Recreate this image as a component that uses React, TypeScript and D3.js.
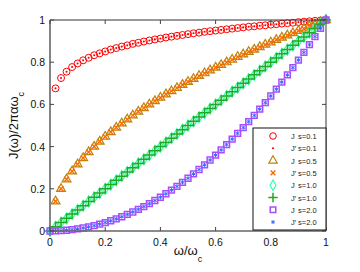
import { useEffect, useRef } from 'react'
import * as d3 from 'd3'

// omega / omega_c sample positions
const xs = [
  0.02, 0.04, 0.06, 0.08, 0.1, 0.12, 0.14, 0.16, 0.18, 0.2,
  0.22, 0.24, 0.26, 0.28, 0.3, 0.32, 0.34, 0.36, 0.38, 0.4,
  0.42, 0.44, 0.46, 0.48, 0.5, 0.52, 0.54, 0.56, 0.58, 0.6,
  0.62, 0.64, 0.66, 0.68, 0.7, 0.72, 0.74, 0.76, 0.78, 0.8,
  0.82, 0.84, 0.86, 0.88, 0.9, 0.92, 0.94, 0.96, 0.98, 1.0,
]
const xsWithZero = [0, ...xs]

const s01 = [
  0.676, 0.725, 0.755, 0.777, 0.794, 0.809, 0.821, 0.833, 0.842, 0.851,
  0.86, 0.867, 0.874, 0.88, 0.887, 0.892, 0.898, 0.903, 0.908, 0.912,
  0.917, 0.921, 0.925, 0.929, 0.933, 0.937, 0.94, 0.944, 0.947, 0.95,
  0.953, 0.956, 0.959, 0.962, 0.965, 0.968, 0.97, 0.973, 0.975, 0.978,
  0.98, 0.983, 0.985, 0.987, 0.99, 0.992, 0.994, 0.996, 0.998, 1.0,
]
const s05 = [
  0.141, 0.2, 0.245, 0.283, 0.316, 0.346, 0.374, 0.4, 0.424, 0.447,
  0.469, 0.49, 0.51, 0.529, 0.548, 0.566, 0.583, 0.6, 0.616, 0.632,
  0.648, 0.663, 0.678, 0.693, 0.707, 0.721, 0.735, 0.748, 0.762, 0.775,
  0.787, 0.8, 0.812, 0.825, 0.837, 0.849, 0.86, 0.872, 0.883, 0.894,
  0.906, 0.917, 0.927, 0.938, 0.949, 0.959, 0.97, 0.98, 0.99, 1.0,
]
const s10 = [
  0, 0.02, 0.04, 0.06, 0.08, 0.1, 0.12, 0.14, 0.16, 0.18, 0.2,
  0.22, 0.24, 0.26, 0.28, 0.3, 0.32, 0.34, 0.36, 0.38, 0.4,
  0.42, 0.44, 0.46, 0.48, 0.5, 0.52, 0.54, 0.56, 0.58, 0.6,
  0.62, 0.64, 0.66, 0.68, 0.7, 0.72, 0.74, 0.76, 0.78, 0.8,
  0.82, 0.84, 0.86, 0.88, 0.9, 0.92, 0.94, 0.96, 0.98, 1.0,
]
const s20 = [
  0, 0.0004, 0.0016, 0.0036, 0.0064, 0.01, 0.0144, 0.0196, 0.0256, 0.0324, 0.04,
  0.0484, 0.0576, 0.0676, 0.0784, 0.09, 0.1024, 0.1156, 0.1296, 0.1444, 0.16,
  0.1764, 0.1936, 0.2116, 0.2304, 0.25, 0.2704, 0.2916, 0.3136, 0.3364, 0.36,
  0.3844, 0.4096, 0.4356, 0.4624, 0.49, 0.5184, 0.5476, 0.5776, 0.6084, 0.64,
  0.6724, 0.7056, 0.7396, 0.7744, 0.81, 0.8464, 0.8836, 0.9216, 0.9604, 1.0,
]

const ticks = [0, 0.2, 0.4, 0.6, 0.8, 1]
const tickLabels = ['0', '0.2', '0.4', '0.6', '0.8', '1']

interface MarkerStyle {
  symbol: d3.SymbolType
  size: number
  stroke: string
  fill: string
  width: number
}

interface Series {
  name: string
  s: string
  x: number[]
  y: number[]
  marker: MarkerStyle
}

const series: Series[] = [
  { name: 'J', s: 's=0.1', x: xs, y: s01, marker: { symbol: d3.symbolCircle, size: 38, stroke: '#ff0000', fill: 'none', width: 1 } },
  { name: 'J\u2032', s: 's=0.1', x: xs, y: s01, marker: { symbol: d3.symbolCircle, size: 3.5, stroke: 'none', fill: '#ff0000', width: 0 } },
  { name: 'J', s: 's=0.5', x: xs, y: s05, marker: { symbol: d3.symbolTriangle, size: 34, stroke: '#b8860b', fill: 'none', width: 1.2 } },
  { name: 'J\u2032', s: 's=0.5', x: xs, y: s05, marker: { symbol: d3.symbolX, size: 18, stroke: '#ff6a00', fill: 'none', width: 1.4 } },
  { name: 'J', s: 's=1.0', x: xsWithZero, y: s10, marker: { symbol: d3.symbolDiamond, size: 34, stroke: '#33ffaa', fill: 'none', width: 1.2 } },
  { name: 'J\u2032', s: 's=1.0', x: xsWithZero, y: s10, marker: { symbol: d3.symbolPlus, size: 34, stroke: '#22a822', fill: 'none', width: 1.5 } },
  { name: 'J', s: 's=2.0', x: xsWithZero, y: s20, marker: { symbol: d3.symbolSquare, size: 34, stroke: '#a64dff', fill: 'none', width: 1.5 } },
  { name: 'J\u2032', s: 's=2.0', x: xsWithZero, y: s20, marker: { symbol: d3.symbolAsterisk, size: 12, stroke: '#3366ff', fill: 'none', width: 1 } },
]

export default function App() {
  const svgRef = useRef<SVGSVGElement>(null)
  const width = 360
  const height = 272

  useEffect(() => {
    if (!svgRef.current) return
    const svg = d3.select(svgRef.current)
    svg.selectAll('*').remove()

    const margin = { top: 20, right: 34, bottom: 41, left: 50 }
    const innerW = width - margin.left - margin.right
    const innerH = height - margin.top - margin.bottom

    const x = d3.scaleLinear().domain([0, 1]).range([0, innerW])
    const y = d3.scaleLinear().domain([0, 1]).range([innerH, 0])

    const g = svg.append('g').attr('transform', `translate(${margin.left},${margin.top})`)
    const font = 'Liberation Sans, Arial, sans-serif'

    // markers
    series.forEach(sr => {
      const m = sr.marker
      const path = d3.symbol().type(m.symbol).size(m.size)()
      g.append('g')
        .selectAll('path')
        .data(sr.y)
        .enter().append('path')
        .attr('d', path)
        .attr('transform', (d, i) => `translate(${x(sr.x[i])},${y(d)})`)
        .attr('fill', m.fill)
        .attr('stroke', m.stroke)
        .attr('stroke-width', m.width)
    })

    // frame
    const frame = g.append('g')
    frame.append('line').attr('x1', 0).attr('x2', innerW).attr('y1', 0).attr('y2', 0)
      .attr('stroke', '#333').attr('stroke-width', 1)
    frame.append('line').attr('x1', 0).attr('x2', innerW).attr('y1', innerH).attr('y2', innerH)
      .attr('stroke', '#666').attr('stroke-width', 1.6)
    frame.append('line').attr('x1', 0).attr('x2', 0).attr('y1', 0).attr('y2', innerH)
      .attr('stroke', '#777').attr('stroke-width', 1.8)
    frame.append('line').attr('x1', innerW).attr('x2', innerW).attr('y1', 0).attr('y2', innerH)
      .attr('stroke', '#999').attr('stroke-width', 2)

    // inward ticks on all sides
    ticks.forEach(t => {
      frame.append('line').attr('x1', x(t)).attr('x2', x(t)).attr('y1', innerH).attr('y2', innerH - 4).attr('stroke', '#444')
      frame.append('line').attr('x1', x(t)).attr('x2', x(t)).attr('y1', 0).attr('y2', 4).attr('stroke', '#444')
      frame.append('line').attr('x1', 0).attr('x2', 4).attr('y1', y(t)).attr('y2', y(t)).attr('stroke', '#444')
      frame.append('line').attr('x1', innerW).attr('x2', innerW - 4).attr('y1', y(t)).attr('y2', y(t)).attr('stroke', '#444')
    })

    // tick labels
    g.selectAll('.xt').data(ticks).enter().append('text')
      .attr('x', d => x(d)).attr('y', innerH + 15)
      .attr('text-anchor', 'middle')
      .attr('font-family', font).attr('font-size', 10.5).attr('fill', '#111')
      .text((d, i) => tickLabels[i])
    g.selectAll('.yt').data(ticks).enter().append('text')
      .attr('x', -5).attr('y', d => y(d) + 4)
      .attr('text-anchor', 'end')
      .attr('font-family', font).attr('font-size', 10.5).attr('fill', '#111')
      .text((d, i) => tickLabels[i])

    // axis titles
    const xl = svg.append('text')
      .attr('x', margin.left + innerW / 2).attr('y', 255)
      .attr('text-anchor', 'middle')
      .attr('font-family', font).attr('font-size', 13).attr('fill', '#111')
    xl.append('tspan').text('\u03c9/\u03c9')
    xl.append('tspan').attr('font-size', 9).attr('dy', 7).text('c')

    const yl = svg.append('text')
      .attr('transform', `translate(18,${margin.top + innerH / 2}) rotate(-90)`)
      .attr('text-anchor', 'middle')
      .attr('font-family', font).attr('font-size', 13).attr('fill', '#111')
    yl.append('tspan').text('J(\u03c9)/2\u03c0\u03b1\u03c9')
    yl.append('tspan').attr('font-size', 9).attr('dy', 6).text('c')

    // legend
    const lg = svg.append('g').attr('transform', 'translate(253,128)')
    lg.append('rect').attr('width', 73).attr('height', 102)
      .attr('fill', '#fff').attr('stroke', '#111').attr('stroke-width', 1)
    series.forEach((sr, i) => {
      const m = sr.marker
      const cy = 8 + i * 12.3
      const legendSize = m.symbol === d3.symbolCircle && m.size < 10 ? m.size : m.size * 0.9
      lg.append('path')
        .attr('d', d3.symbol().type(m.symbol).size(legendSize)())
        .attr('transform', `translate(20,${cy})`)
        .attr('fill', m.fill).attr('stroke', m.stroke).attr('stroke-width', m.width)
      lg.append('text').attr('x', 38).attr('y', cy + 3)
        .attr('font-family', font).attr('font-size', 7.5).attr('fill', '#222')
        .text(sr.name)
      lg.append('text').attr('x', 45).attr('y', cy + 3)
        .attr('font-family', font).attr('font-size', 7.5).attr('fill', '#222')
        .text(sr.s)
    })
  }, [])

  return (
    <svg
      ref={svgRef}
      width={width}
      height={height}
      style={{ position: 'absolute', left: 0, top: 0, background: '#fff' }}
    />
  )
}
